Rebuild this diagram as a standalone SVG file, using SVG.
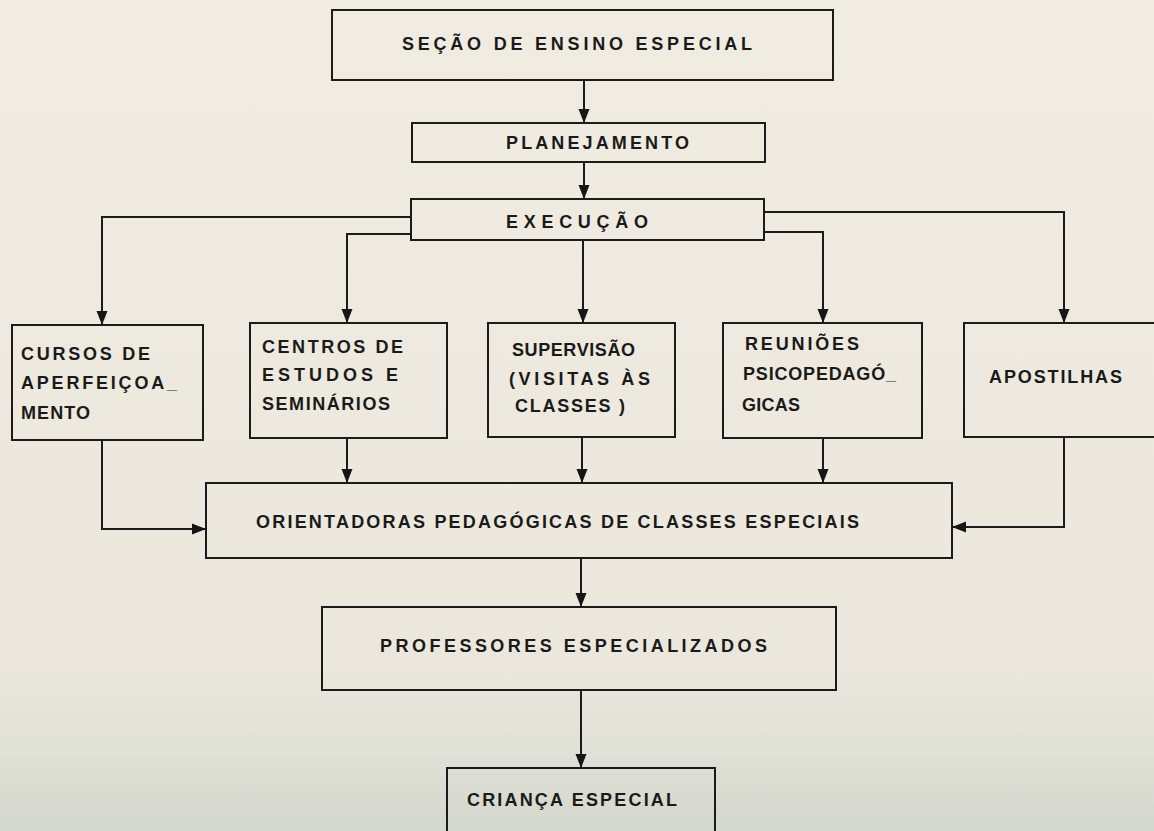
<svg xmlns="http://www.w3.org/2000/svg" width="1154" height="831" viewBox="0 0 1154 831">
<defs>
<linearGradient id="bg" x1="0" y1="0" x2="0" y2="1">
<stop offset="0" stop-color="#f1ece1"/>
<stop offset="0.8" stop-color="#ebe7dc"/>
<stop offset="0.9" stop-color="#e0e1d7"/>
<stop offset="1" stop-color="#d4d7cd"/>
</linearGradient>
<marker id="ah" viewBox="0 0 14 12" refX="14" refY="6" markerWidth="14" markerHeight="12" markerUnits="userSpaceOnUse" orient="auto">
<path d="M0,0.5 L14,6 L0,11.5 Z" fill="#161616"/>
</marker>
<style>
.box{fill:none;stroke:#1b1b1b;stroke-width:2}
.ln{fill:none;stroke:#1b1b1b;stroke-width:2;marker-end:url(#ah)}
text{font-family:"Liberation Sans","DejaVu Sans",sans-serif;font-weight:bold;font-size:18px;fill:#1a1a1a}
</style>
</defs>
<rect x="0" y="0" width="1154" height="831" fill="url(#bg)"/>
<g id="connectors">
<path class="ln" d="M584,80 V123"/>
<path class="ln" d="M584,162 V199"/>
<path class="ln" d="M411,217 H102 V325"/>
<path class="ln" d="M411,234 H347 V323"/>
<path class="ln" d="M583,240 V323"/>
<path class="ln" d="M764,232 H823 V323"/>
<path class="ln" d="M764,212 H1064 V323"/>
<path class="ln" d="M102,440 V529 H206"/>
<path class="ln" d="M347,438 V483"/>
<path class="ln" d="M582,437 V483"/>
<path class="ln" d="M823,438 V483"/>
<path class="ln" d="M1064,437 V527 H952"/>
<path class="ln" d="M581,558 V607"/>
<path class="ln" d="M581,690 V768"/>
</g>
<g id="secao"><rect class="box" x="332" y="10" width="501" height="70"/>
<text x="402" y="50" textLength="350" lengthAdjust="spacing">SEÇÃO DE ENSINO ESPECIAL</text></g>
<g id="planejamento"><rect class="box" x="412" y="123" width="353" height="39"/>
<text x="506" y="149" textLength="183" lengthAdjust="spacing">PLANEJAMENTO</text></g>
<g id="execucao"><rect class="box" x="411" y="199" width="353" height="41"/>
<text x="506" y="228" textLength="142" lengthAdjust="spacing">EXECUÇÃO</text></g>
<g id="cursos"><rect class="box" x="12" y="325" width="191" height="115"/>
<text x="21" y="360" textLength="129" lengthAdjust="spacing">CURSOS DE</text>
<text x="21" y="389" textLength="156" lengthAdjust="spacing">APERFEIÇOA_</text>
<text x="21" y="419" textLength="69" lengthAdjust="spacing">MENTO</text></g>
<g id="centros"><rect class="box" x="250" y="323" width="197" height="115"/>
<text x="262" y="353" textLength="141" lengthAdjust="spacing">CENTROS DE</text>
<text x="262" y="381" textLength="136" lengthAdjust="spacing">ESTUDOS E</text>
<text x="262" y="410" textLength="128" lengthAdjust="spacing">SEMINÁRIOS</text></g>
<g id="supervisao"><rect class="box" x="488" y="323" width="187" height="114"/>
<text x="512" y="356" textLength="123" lengthAdjust="spacing">SUPERVISÃO</text>
<text x="509" y="385" textLength="141" lengthAdjust="spacing">(VISITAS ÀS</text>
<text x="515" y="412" textLength="110" lengthAdjust="spacing">CLASSES )</text></g>
<g id="reunioes"><rect class="box" x="723" y="323" width="199" height="115"/>
<text x="745" y="350" textLength="114" lengthAdjust="spacing">REUNIÕES</text>
<text x="743" y="380" textLength="153" lengthAdjust="spacing">PSICOPEDAGÓ_</text>
<text x="742" y="411" textLength="58" lengthAdjust="spacing">GICAS</text></g>
<g id="apostilhas"><rect class="box" x="964" y="323" width="200" height="114"/>
<text x="989" y="383" textLength="133" lengthAdjust="spacing">APOSTILHAS</text></g>
<g id="orientadoras"><rect class="box" x="206" y="483" width="746" height="75"/>
<text x="256" y="528" textLength="603" lengthAdjust="spacing">ORIENTADORAS PEDAGÓGICAS DE CLASSES ESPECIAIS</text></g>
<g id="professores"><rect class="box" x="322" y="607" width="514" height="83"/>
<text x="380" y="652" textLength="387" lengthAdjust="spacing">PROFESSORES ESPECIALIZADOS</text></g>
<g id="crianca"><rect class="box" x="447" y="768" width="268" height="80"/>
<text x="467" y="806" textLength="210" lengthAdjust="spacing">CRIANÇA ESPECIAL</text></g>
</svg>
